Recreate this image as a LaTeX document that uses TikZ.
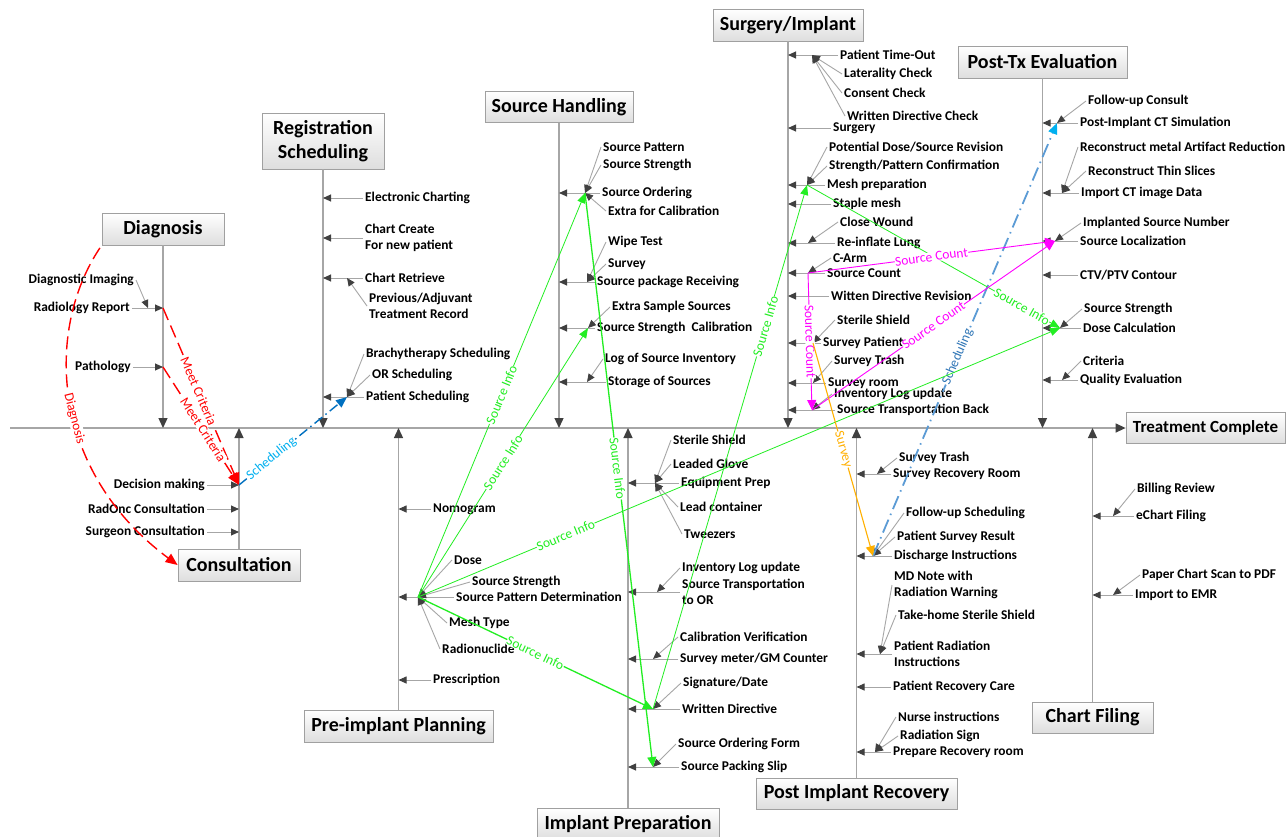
\documentclass[tikz,border=0pt]{standalone}
\usepackage{fontspec}
\setmainfont{Carlito}
\usetikzlibrary{arrows.meta}
\definecolor{boneGray}{HTML}{A6A6A6}
\definecolor{tipGray}{HTML}{404040}
\definecolor{boxLine}{HTML}{A0A0A0}
\definecolor{diagRed}{HTML}{FF0000}
\definecolor{infoGreen}{HTML}{22EE22}
\definecolor{countPink}{HTML}{FF00FF}
\definecolor{surveyAmber}{HTML}{FFB000}
\definecolor{schedBlue}{HTML}{0070C0}
\definecolor{schedSky}{HTML}{00B0F0}
\definecolor{schedSteel}{HTML}{5B9BD5}
\definecolor{schedDeep}{HTML}{2E75B6}
\newcommand{\hdrfont}{\bfseries\fontsize{20}{24}\selectfont}
\newcommand{\donefont}{\bfseries\fontsize{17}{20}\selectfont}
\newcommand{\itmfont}{\bfseries\fontsize{13.4}{16}\selectfont}
\newcommand{\lblfont}{\fontsize{13.5}{15}\selectfont}

\begin{document}
\begin{tikzpicture}[
    x=1pt, y=-1pt,
    hdr/.style={draw=boxLine, line width=0.8pt, top color=white, bottom color=black!13, font=\hdrfont, minimum height=32pt, inner sep=3pt, align=center},
    itm/.style={anchor=west, font=\itmfont, align=left, inner xsep=2pt, inner ysep=0pt},
    itmL/.style={anchor=east, font=\itmfont, align=right, inner xsep=2pt, inner ysep=0pt},
    bone/.style={draw=boneGray, line width=1.3pt, -{Triangle[length=10pt, width=9pt, color=tipGray]}},
    stub/.style={draw=boneGray, line width=0.9pt, -{Triangle[length=8pt, width=7pt, color=tipGray]}},
    lbl/.style={sloped, fill=white, inner sep=0.3pt, font=\lblfont},
    diagline/.style={draw=diagRed, line width=1.4pt, dash pattern=on 13pt off 6pt, -{Triangle[length=12pt, width=10pt]}},
    schedline/.style={draw=schedBlue, line width=1.4pt, dash pattern=on 10pt off 4pt on 1.5pt off 4pt, -{Triangle[length=11pt, width=9pt]}},
    schedlineB/.style={draw=schedSteel, line width=1.8pt, dash pattern=on 14pt off 5pt on 1.5pt off 5pt, -{Triangle[length=11pt, width=9pt, color=schedSky]}},
    infoline/.style={draw=infoGreen, line width=0.8pt, -{Triangle[length=10pt, width=8pt]}},
    infolineB/.style={draw=infoGreen, line width=1.3pt, -{Triangle[length=10pt, width=9pt]}},
    countline/.style={draw=countPink, line width=0.9pt, -{Triangle[length=10pt, width=9pt]}},
    surveyline/.style={draw=surveyAmber, line width=1.1pt, -{Triangle[length=10pt, width=9pt]}},
]

\path[use as bounding box, fill=white] (0,0) rectangle (1287,836);

% Main spine
\coordinate (spineL) at (10,428);
\node[hdr, minimum width=159pt, minimum height=31pt, font=\donefont] (done) at (1205.5,428) {Treatment Complete};
\draw[bone] (spineL) -- (done.west);

% Category boxes
\node[hdr, minimum width=122pt] (diag) at (163,229) {Diagnosis};
\node[hdr, minimum width=122pt, minimum height=56pt] (reg) at (323,141) {Registration\\Scheduling};
\node[hdr, minimum width=148pt, minimum height=31pt] (sh) at (559,107) {Source Handling};
\node[hdr, minimum width=150pt] (surgim) at (788,25) {Surgery/Implant};
\node[hdr, minimum width=169pt] (posttx) at (1042.5,62) {Post-Tx Evaluation};
\node[hdr, minimum width=122pt] (cons) at (239,565) {Consultation};
\node[hdr, minimum width=189pt] (preimp) at (398.5,726) {Pre-implant Planning};
\node[hdr, minimum width=182pt] (impprep) at (628,824) {Implant Preparation};
\node[hdr, minimum width=201pt, minimum height=31pt] (postimp) at (856.5,793.5) {Post Implant Recovery};
\node[hdr, minimum width=121pt, minimum height=31pt] (chart) at (1092.5,717.5) {Chart Filing};

% Bones
\draw[bone] (diag.south) -- (diag.south |- spineL);
\draw[bone] (reg.south) -- (reg.south |- spineL);
\draw[bone] (sh.south) -- (sh.south |- spineL);
\draw[bone] (surgim.south) -- (surgim.south |- spineL);
\draw[bone] (posttx.south) -- (posttx.south |- spineL);
\draw[bone] (cons.north) -- (cons.north |- spineL);
\draw[bone] (preimp.north) -- (preimp.north |- spineL);
\draw[bone] (impprep.north) -- (impprep.north |- spineL);
\draw[bone] (postimp.north) -- (postimp.north |- spineL);
\draw[bone] (chart.north) -- (chart.north |- spineL);

% Diagnosis items
\node[itmL] (dimg) at (136,280) {Diagnostic Imaging};
\node[itmL] (rrep) at (132,308) {Radiology Report};
\node[itmL] (patho) at (133,367) {Pathology};

% Consultation items
\node[itmL] (dec) at (207,485) {Decision making};
\node[itmL] (radonc) at (207,509) {RadOnc Consultation};
\node[itmL] (surgc) at (207,532) {Surgeon Consultation};

% Registration items
\node[itm] (echart) at (363,198) {Electronic Charting};
\node[itm] (ccreate) at (363,238) {Chart Create\\For new patient};
\node[itm] (cretr) at (363,278) {Chart Retrieve};
\node[itm] (prevrec) at (367,306) {Previous/Adjuvant\\Treatment Record};
\node[itm] (brachy) at (364,354) {Brachytherapy Scheduling};
\node[itm] (orsch) at (370,375) {OR Scheduling};
\node[itm] (patsch) at (364,397) {Patient Scheduling};

% Source handling items
\node[itm] (spat) at (601,147) {Source Pattern};
\node[itm] (sstr) at (601,165) {Source Strength};
\node[itm] (sord) at (600,193) {Source Ordering};
\node[itm] (xcal) at (606,211) {Extra for Calibration};
\node[itm] (wipe) at (606,242) {Wipe Test};
\node[itm] (survey) at (606,264) {Survey};
\node[itm] (spkg) at (595,282) {Source package Receiving};
\node[itm] (xsamp) at (610,307) {Extra Sample Sources};
\node[itm] (sscal) at (595,328) {Source Strength~ Calibration};
\node[itm] (slog) at (603,359) {Log of Source Inventory};
\node[itm] (sstor) at (606,382) {Storage of Sources};

% Surgery items
\node[itm] (timeout) at (838,55) {Patient Time-Out};
\node[itm] (later) at (842,74) {Laterality Check};
\node[itm] (consent) at (842,93) {Consent Check};
\node[itm] (wdcheck) at (845,116) {Written Directive Check};
\node[itm] (surg) at (831,128) {Surgery};
\node[itm] (potdose) at (827,147) {Potential Dose/Source Revision};
\node[itm] (spconf) at (827,166) {Strength/Pattern Confirmation};
\node[itm] (mesh) at (825,185) {Mesh preparation};
\node[itm] (staple) at (831,204) {Staple mesh};
\node[itm] (closew) at (838,222) {Close Wound};
\node[itm] (lung) at (835,243) {Re-inflate Lung};
\node[itm] (carm) at (831,258) {C-Arm};
\node[itm] (scount) at (825,273) {Source Count};
\node[itm] (wdrev) at (829,296) {Witten Directive Revision};
\node[itm] (sshield) at (835,320) {Sterile Shield};
\node[itm] (survpat) at (821,343) {Survey Patient};
\node[itm] (survtr) at (832,361) {Survey Trash};
\node[itm] (survrm) at (826,383) {Survey room};
\node[itm] (invlog) at (832,394) {Inventory Log update};
\node[itm] (stback) at (835,410) {Source Transportation Back};

% Post-Tx items
\node[itm] (fucons) at (1086,101) {Follow-up Consult};
\node[itm] (ctsim) at (1078,123) {Post-Implant CT Simulation};
\node[itm] (marr) at (1078,147) {Reconstruct metal Artifact Reduction};
\node[itm] (thin) at (1086,171) {Reconstruct Thin Slices};
\node[itm] (ctimp) at (1079,193) {Import CT image Data};
\node[itm] (impnum) at (1081,223) {Implanted Source Number};
\node[itm] (sloc) at (1078,241) {Source Localization};
\node[itm] (ctv) at (1078,275) {CTV/PTV Contour};
\node[itm] (sstrb) at (1082,309) {Source Strength};
\node[itm] (dosec) at (1081,328) {Dose Calculation};
\node[itm] (crit) at (1081,361) {Criteria};
\node[itm] (qual) at (1078,380) {Quality Evaluation};

% Pre-implant items
\node[itm] (nomo) at (431,509) {Nomogram};
\node[itm] (dose) at (452,560) {Dose};
\node[itm] (sstrc) at (470,582) {Source Strength};
\node[itm] (spd) at (454,597) {Source Pattern Determination};
\node[itm] (meshty) at (447,623) {Mesh Type};
\node[itm] (radnuc) at (440,649) {Radionuclide};
\node[itm] (presc) at (431,680) {Prescription};

% Implant preparation items
\node[itm] (ishield) at (671,440) {Sterile Shield};
\node[itm] (glove) at (671,464) {Leaded Glove};
\node[itm] (eqprep) at (679,483) {Equipment Prep};
\node[itm] (leadc) at (678,507) {Lead container};
\node[itm] (tweez) at (682,534) {Tweezers};
\node[itm] (invlogb) at (680,568) {Inventory Log update};
\node[itm] (stor) at (680,592) {Source Transportation\\to OR};
\node[itm] (calver) at (678,637) {Calibration Verification};
\node[itm] (gmc) at (678,659) {Survey meter/GM Counter};
\node[itm] (sigdate) at (681,683) {Signature/Date};
\node[itm] (wdir) at (680,709) {Written Directive};
\node[itm] (sof) at (676,744) {Source Ordering Form};
\node[itm] (sps) at (679,767) {Source Packing Slip};

% Post implant items
\node[itm] (ptrash) at (897,458) {Survey Trash};
\node[itm] (precov) at (891,474) {Survey Recovery Room};
\node[itm] (fusch) at (904,513) {Follow-up Scheduling};
\node[itm] (psres) at (895,537) {Patient Survey Result};
\node[itm] (disch) at (892,556) {Discharge Instructions};
\node[itm] (mdnote) at (892,585) {MD Note with\\Radiation Warning};
\node[itm] (thshield) at (896,615) {Take-home Sterile Shield};
\node[itm] (pradi) at (892,654) {Patient Radiation\\Instructions};
\node[itm] (prcare) at (891,687) {Patient Recovery Care};
\node[itm] (nurse) at (896,717) {Nurse instructions};
\node[itm] (radsign) at (898,736) {Radiation Sign};
\node[itm] (prepr) at (891,752) {Prepare Recovery room};

% Chart filing items
\node[itm] (bill) at (1135,489) {Billing Review};
\node[itm] (echf) at (1134,516) {eChart Filing};
\node[itm] (scan) at (1140,575) {Paper Chart Scan to PDF};
\node[itm] (emr) at (1133,595) {Import to EMR};

% Junction points on the item arrows
\coordinate (rrepT) at ([xshift=16pt]rrep.east);
\coordinate (cretrT) at ([xshift=-16pt]cretr.west);
\coordinate (patschT) at ([xshift=-17pt]patsch.west);
\coordinate (sordT) at ([xshift=-15pt]sord.west);
\coordinate (spkgT) at ([xshift=-8pt]spkg.west);
\coordinate (sscalT) at ([xshift=-7pt]sscal.west);
\coordinate (sstorT) at ([xshift=-19pt]sstor.west);
\coordinate (timeoutT) at ([xshift=-26pt]timeout.west);
\coordinate (meshT) at ([xshift=-18pt]mesh.west);
\coordinate (lungT) at ([xshift=-27pt]lung.west);
\coordinate (scountT) at ([xshift=-17pt]scount.west);
\coordinate (survpatT) at ([xshift=-8pt]survpat.west);
\coordinate (survrmT) at ([xshift=-13pt]survrm.west);
\coordinate (stbackT) at ([xshift=-23pt]stback.west);
\coordinate (ctsimT) at ([xshift=-21pt]ctsim.west);
\coordinate (ctimpT) at ([xshift=-17pt]ctimp.west);
\coordinate (slocT) at ([xshift=-23pt]sloc.west);
\coordinate (dosecT) at ([xshift=-21pt]dosec.west);
\coordinate (qualT) at ([xshift=-16pt]qual.west);
\coordinate (spdT) at ([xshift=-36pt]spd.west);
\coordinate (eqprepT) at ([xshift=-24pt]eqprep.west);
\coordinate (storT) at ([xshift=-23pt]stor.west);
\coordinate (gmcT) at ([xshift=-25pt]gmc.west);
\coordinate (wdirT) at ([xshift=-27pt]wdir.west);
\coordinate (spsT) at ([xshift=-26pt]sps.west);
\coordinate (precovT) at ([xshift=-14pt]precov.west);
\coordinate (dischT) at ([xshift=-19pt]disch.west);
\coordinate (pradiT) at ([xshift=-12pt]pradi.west);
\coordinate (preprT) at ([xshift=-16pt]prepr.west);
\coordinate (echfT) at ([xshift=-21pt]echf.west);
\coordinate (emrT) at ([xshift=-20pt]emr.west);

% Item arrows onto the bones
\draw[stub] (rrep.east) -- (rrep.east -| diag.south);
\draw[stub] (patho.east) -- (patho.east -| diag.south);
\draw[stub] (dec.east) -- (dec.east -| cons.north);
\draw[stub] (radonc.east) -- (radonc.east -| cons.north);
\draw[stub] (surgc.east) -- (surgc.east -| cons.north);
\draw[stub] (echart.west) -- (echart.west -| reg.south);
\draw[stub] (ccreate.west) -- (ccreate.west -| reg.south);
\draw[stub] (cretr.west) -- (cretr.west -| reg.south);
\draw[stub] (patsch.west) -- (patsch.west -| reg.south);
\draw[stub] (sord.west) -- (sord.west -| sh.south);
\draw[stub] (spkg.west) -- (spkg.west -| sh.south);
\draw[stub] (sscal.west) -- (sscal.west -| sh.south);
\draw[stub] (sstor.west) -- (sstor.west -| sh.south);
\draw[stub] (timeout.west) -- (timeout.west -| surgim.south);
\draw[stub] (surg.west) -- (surg.west -| surgim.south);
\draw[stub] (mesh.west) -- (mesh.west -| surgim.south);
\draw[stub] (staple.west) -- (staple.west -| surgim.south);
\draw[stub] (lung.west) -- (lung.west -| surgim.south);
\draw[stub] (scount.west) -- (scount.west -| surgim.south);
\draw[stub] (wdrev.west) -- (wdrev.west -| surgim.south);
\draw[stub] (survpat.west) -- (survpat.west -| surgim.south);
\draw[stub] (survrm.west) -- (survrm.west -| surgim.south);
\draw[stub] (stback.west) -- (stback.west -| surgim.south);
\draw[stub] (ctsim.west) -- (ctsim.west -| posttx.south);
\draw[stub] (ctimp.west) -- (ctimp.west -| posttx.south);
\draw[stub] (sloc.west) -- (sloc.west -| posttx.south);
\draw[stub] (ctv.west) -- (ctv.west -| posttx.south);
\draw[stub] (dosec.west) -- (dosec.west -| posttx.south);
\draw[stub] (qual.west) -- (qual.west -| posttx.south);
\draw[stub] (nomo.west) -- (nomo.west -| preimp.north);
\draw[stub] (spd.west) -- (spd.west -| preimp.north);
\draw[stub] (presc.west) -- (presc.west -| preimp.north);
\draw[stub] (eqprep.west) -- (eqprep.west -| impprep.north);
\draw[stub] (stor.west) -- (stor.west -| impprep.north);
\draw[stub] (gmc.west) -- (gmc.west -| impprep.north);
\draw[stub] (wdir.west) -- (wdir.west -| impprep.north);
\draw[stub] (sps.west) -- (sps.west -| impprep.north);
\draw[stub] (precov.west) -- (precov.west -| postimp.north);
\draw[stub] (disch.west) -- (disch.west -| postimp.north);
\draw[stub] (pradi.west) -- (pradi.west -| postimp.north);
\draw[stub] (prcare.west) -- (prcare.west -| postimp.north);
\draw[stub] (prepr.west) -- (prepr.west -| postimp.north);
\draw[stub] (echf.west) -- (echf.west -| chart.north);
\draw[stub] (emr.west) -- (emr.west -| chart.north);

% Sub-item arrows
\draw[stub] (dimg.east) -- (rrepT);
\draw[stub] (prevrec.west) -- (cretrT);
\draw[stub] (brachy.west) -- (patschT);
\draw[stub] (orsch.west) -- (patschT);
\draw[stub] (spat.west) -- (sordT);
\draw[stub] (sstr.west) -- (sordT);
\draw[stub] (xcal.west) -- (sordT);
\draw[stub] (wipe.west) -- (spkgT);
\draw[stub] (survey.west) -- (spkgT);
\draw[stub] (xsamp.west) -- (sscalT);
\draw[stub] (slog.west) -- (sstorT);
\draw[stub] (later.west) -- (timeoutT);
\draw[stub] (consent.west) -- (timeoutT);
\draw[stub] (wdcheck.west) -- (timeoutT);
\draw[stub] (potdose.west) -- (meshT);
\draw[stub] (spconf.west) -- (meshT);
\draw[stub] (closew.west) -- (lungT);
\draw[stub] (carm.west) -- (scountT);
\draw[stub] (sshield.west) -- (survpatT);
\draw[stub] (survtr.west) -- (survrmT);
\draw[stub] (invlog.west) -- (stbackT);
\draw[stub] (fucons.west) -- (ctsimT);
\draw[stub] (marr.west) -- (ctimpT);
\draw[stub] (thin.west) -- (ctimpT);
\draw[stub] (impnum.west) -- (slocT);
\draw[stub] (sstrb.west) -- (dosecT);
\draw[stub] (crit.west) -- (qualT);
\draw[stub] (dose.west) -- (spdT);
\draw[stub] (sstrc.west) -- (spdT);
\draw[stub] (meshty.west) -- (spdT);
\draw[stub] (radnuc.west) -- (spdT);
\draw[stub] (ishield.west) -- (eqprepT);
\draw[stub] (glove.west) -- (eqprepT);
\draw[stub] (leadc.west) -- (eqprepT);
\draw[stub] (tweez.west) -- (eqprepT);
\draw[stub] (invlogb.west) -- (storT);
\draw[stub] (calver.west) -- (gmcT);
\draw[stub] (sigdate.west) -- (wdirT);
\draw[stub] (sof.west) -- (spsT);
\draw[stub] (ptrash.west) -- (precovT);
\draw[stub] (fusch.west) -- (dischT);
\draw[stub] (psres.west) -- (dischT);
\draw[stub] (mdnote.west) -- (pradiT);
\draw[stub] (thshield.west) -- (pradiT);
\draw[stub] (nurse.west) -- (preprT);
\draw[stub] (radsign.west) -- (preprT);
\draw[stub] (bill.west) -- (echfT);
\draw[stub] (scan.west) -- (emrT);

% Diagnosis flow (red)
\draw[diagline, shorten <=3pt] (diag.south west) .. controls (45,330) and (50,470) .. (cons.west)
    node[lbl, pos=0.55, text=diagRed] {Diagnosis};
\draw[diagline] (rrep.east -| diag.south) -- node[lbl, pos=0.47, text=diagRed] {Meet Criteria} (dec.east -| cons.north);
\draw[diagline] (patho.east -| diag.south) -- node[lbl, pos=0.53, text=diagRed] {Meet Criteria} (dec.east -| cons.north);

% Scheduling (blue)
\draw[schedline] (dec.east -| cons.north) -- node[lbl, pos=0.3, text=schedSky] {Scheduling} (patschT);
\draw[schedlineB] (dischT) -- node[lbl, pos=0.46, text=schedDeep] {Scheduling} (ctsimT);

% Source info (green)
\draw[infoline] (spdT) -- node[lbl, text=infoGreen] {Source Info} (sordT);
\draw[infoline] (spdT) -- node[lbl, text=infoGreen] {Source Info} (sscalT);
\draw[infoline] (spdT) -- node[lbl, pos=0.23, text=infoGreen] {Source Info} (dosecT);
\draw[infolineB] (spdT) -- node[lbl, text=infoGreen] {Source Info} (wdirT);
\draw[infolineB, {Triangle[length=10pt, width=9pt]}-] (spsT) -- node[lbl, pos=0.52, text=infoGreen] {Source Info} (sordT);
\draw[infoline] (wdirT) -- node[lbl, pos=0.73, text=infoGreen] {Source Info} (meshT);
\draw[infoline] (meshT) -- node[lbl, pos=0.85, text=infoGreen] {Source Info} (dosecT);

% Source count (magenta)
\draw[countline, {Triangle[length=10pt, width=9pt]}-] (stbackT) -- node[lbl, text=countPink] {Source Count} (scountT);
\draw[countline] (scountT) -- node[lbl, text=countPink] {Source Count} (slocT);
\draw[countline] (stbackT) -- node[lbl, text=countPink] {Source Count} (slocT);

% Survey (amber)
\draw[surveyline] (survpatT) -- node[lbl, text=surveyAmber] {Survey} (dischT);

\end{tikzpicture}
\end{document}
